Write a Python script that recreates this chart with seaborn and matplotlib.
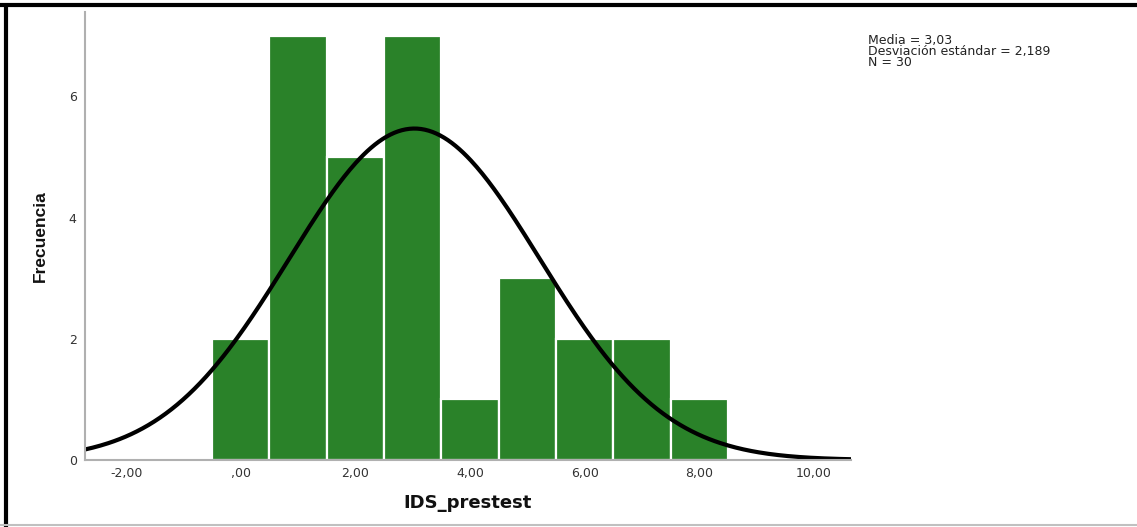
import numpy as np
import pandas as pd
import matplotlib
matplotlib.use("Agg")
import matplotlib.pyplot as plt
import seaborn as sns
from matplotlib.lines import Line2D

# Data
bin_centers = [0, 1, 2, 3, 4, 5, 6, 7, 8]
counts = [2, 7, 5, 7, 1, 3, 2, 2, 1]
x_ticks = [-2, 0, 2, 4, 6, 8, 10]
x_tick_labels = ["-2,00", ",00", "2,00", "4,00", "6,00", "8,00", "10,00"]
y_ticks = [0, 2, 4, 6]
stats_lines = ["Media = 3,03", "Desviación estándar = 2,189", "N = 30"]
mean_val = 3.03
sd_val = 2.189
n_val = 30

sns.set_theme(style="white")
plt.rcParams['font.family'] = ['DejaVu Sans']

fig = plt.figure(figsize=(11.37, 5.27), dpi=100)
ax = fig.add_axes([85/1137, 1-460/527, (851-85)/1137, (460-12)/527])

df = pd.DataFrame({"v": np.repeat(bin_centers, counts).astype(float)})
sns.histplot(data=df, x="v", binwidth=1.0, binrange=(-0.5, 8.5), color="#2a8229",
             edgecolor="white", linewidth=1.6, alpha=1, ax=ax)

xlim = (-2.72, 10.65)
xs = np.linspace(xlim[0], xlim[1], 400)
ys = n_val * 1.0 / (sd_val * np.sqrt(2*np.pi)) * np.exp(-0.5*((xs-mean_val)/sd_val)**2)
sns.lineplot(x=xs, y=ys, color="black", linewidth=3, ax=ax)

ax.set_xlim(*xlim)
ax.set_ylim(0, 7.39)
ax.set_xticks(x_ticks)
ax.set_xticklabels(x_tick_labels, fontsize=9, color="#333333")
ax.set_yticks(y_ticks)
ax.set_yticklabels([str(t) for t in y_ticks], fontsize=9, color="#333333")
ax.tick_params(axis='x', length=0, pad=5)
ax.tick_params(axis='y', length=0, pad=6)
for s in ["top", "right"]:
    ax.spines[s].set_visible(False)
for s in ["left", "bottom"]:
    ax.spines[s].set_color("#b0b0b0")
    ax.spines[s].set_linewidth(1.5)

ax.set_xlabel("IDS_prestest", fontsize=13, fontweight="bold", color="#111111", labelpad=10)
ax.set_ylabel("Frecuencia", fontsize=12.5, fontweight="bold", color="#111111", labelpad=15,
              family=['Liberation Sans Narrow', 'Liberation Sans', 'DejaVu Sans'])

fig.text(868/1137, 1-34/527, "\n".join(stats_lines), fontsize=9, va="top", ha="left",
         color="#222222", linespacing=0.8)

# figure frame
fig.add_artist(Line2D([0, 1], [1-5/527, 1-5/527], transform=fig.transFigure, color="black", linewidth=3))
fig.add_artist(Line2D([6/1137, 6/1137], [0, 1-5/527], transform=fig.transFigure, color="black", linewidth=3))
fig.add_artist(Line2D([0, 1], [1-525/527, 1-525/527], transform=fig.transFigure, color="#c0c0c0", linewidth=1.5))

fig.savefig("out.png", dpi=100)
